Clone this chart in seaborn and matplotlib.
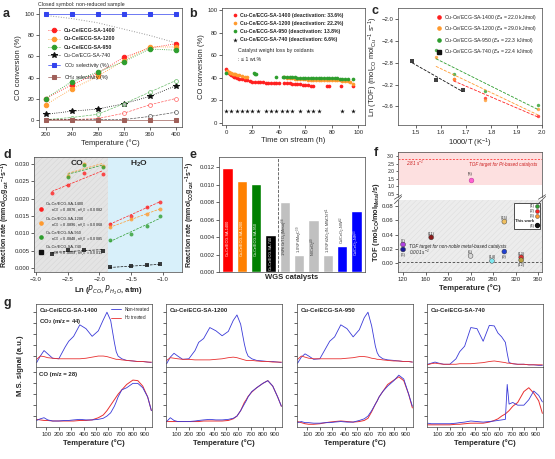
import matplotlib
matplotlib.use("Agg")
import matplotlib.pyplot as plt
import seaborn as sns
import numpy as np
from matplotlib.lines import Line2D

# ---------------- data ----------------
# (a) CO conversion vs temperature
TEMP_A = [200, 240, 280, 320, 360, 400]
CONV_1400 = [20, 33, 44, 59, 68, 72]
CONV_1200 = [14, 29, 41, 56, 69, 69]
CONV_950 = [20, 36, 45, 55, 67, 66]
CONV_740 = [5, 8, 10, 15, 22, 32]
CONV_1400_OPEN = [0, 0, 1, 6, 14, 20]
CONV_950_OPEN = [0, 2, 5, 15, 26, 37]
CONV_740_OPEN = [0, 0, 0, 0, 3, 7]
EQUIL_A = [99, 96, 92, 86, 80, 73]
SEL_CO2 = [100, 100, 100, 100, 100, 100]
SEL_CH4 = [0, 0, 0, 0, 0, 0]

# (b) stability test
TIME_1400 = [0, 1, 2, 3, 4, 5, 6, 7, 8, 10, 12, 14, 16, 18, 20, 22, 24, 26, 28, 30, 32, 34, 36, 38,
             40, 44, 46, 48, 50, 52, 54, 56, 58, 60, 62, 64, 66, 76, 78, 87, 96]
STAB_1400 = [48, 46, 44.5, 43.5, 42.5, 41.5, 41, 40.5, 40, 39, 38.5, 38, 37.5, 37, 36.5, 36.5, 36.5, 36,
             36, 35.5, 35.5, 35.5, 35.5, 35, 35, 35, 35, 35, 34.5, 34.5, 34, 34, 33.5, 33.5, 33.5, 33,
             33, 33, 33, 32.5, 32.5]
TIME_1200 = [1, 2, 3, 4, 5, 6, 7, 8, 10, 12, 14, 16, 44, 46, 48, 50, 52, 54, 56, 58, 60, 62, 64, 66,
             68, 70, 72, 74, 76, 78, 80, 82, 84, 86, 88, 90, 92, 94, 96]
STAB_1200 = [46, 45, 44.5, 44, 43.5, 43, 43, 42.5, 42, 41.5, 41, 41, 40.5, 40, 39.5, 39.5, 39, 39, 39,
             38.5, 38.5, 38, 38, 38, 38, 38, 38, 38, 37.5, 37.5, 37.5, 37.5, 37.5, 37.5, 37, 37, 37,
             36.5, 34]
TIME_950 = [0, 21, 22, 23, 38, 43, 44, 46, 48, 50, 52, 54, 56, 58, 60, 62, 64, 66, 68, 70, 72, 74, 76,
            78, 80, 82, 84, 86, 88, 90, 92, 96]
STAB_950 = [44, 44, 43.5, 43, 41, 41, 41, 40.5, 40.5, 40.5, 40.5, 40, 40, 40, 40, 40, 40, 39.5, 39.5,
            39.5, 39.5, 39.5, 39.5, 39.5, 39.5, 39.5, 39.5, 39, 39, 39, 39, 38.5]
TIME_740 = [0, 4, 8, 12, 16, 20, 24, 30, 34, 38, 42, 46, 50, 56, 62, 66, 70, 88, 96]
STAB_740 = [10, 10, 10, 10, 10, 10, 10, 10, 10, 10, 10, 10, 10, 10, 10, 10, 10, 10, 10]

# (c) Arrhenius
INVT_A = [1.58, 1.65, 1.775, 1.985]
INVT_1400 = [1.65, 1.775, 1.985]
INVT_740 = [1.486, 1.580, 1.686]
LNTOF_1400 = [-3.09, -3.45, -3.77]
LNTOF_1200 = [-2.70, -3.10, -3.49, -3.65]
LNTOF_950 = [-2.56, -3.00, -3.32, -3.57]
LNTOF_740 = [-2.77, -3.11, -3.30]
EA_TXT = ['22.0', '29.0', '22.3', '22.4']

# (d) reaction orders
LNP_CO = [-2.75, -2.5, -2.25, -1.95]
LNP_CO3 = [-2.5, -2.25, -1.95]
LNP_H2O = [-1.84, -1.5, -1.25, -1.05]
RCO_1400 = [0.0215, 0.0238, 0.0275, 0.0270]
RCO_1200 = [0.0265, 0.0300, 0.0295]
RCO_950 = [0.0262, 0.0297, 0.0290]
RCO_740 = [0.0041, 0.0051, 0.0052, 0.0050]
RH2O_1400 = [0.0127, 0.0150, 0.0177, 0.0190]
RH2O_1200 = [0.0117, 0.0140, 0.0155, 0.0171]
RH2O_950 = [0.0081, 0.0097, 0.0120, 0.0150]
RH2O_740 = [0.0001, 0.0005, 0.0008, 0.0010]
N_CO = ['0.0876', '0.0896', '0.0848', '0.0009']
N_H2O = ['0.0082', '0.0068', '0.0085', '0.0013']

# (e) benchmark rates
E_NAMES = ["Cu-Ce/ECG-SA-1400", "Cu-Ce/ECG-SA-1200", "Cu-Ce/ECG-SA-950", "Cu-Ce/ECG-SA-740",
           "1%Pt/CeTiO$_x$(Meso)$^{38}$", "1.0%Pt/Mo$_2$C$^{39}$", "Ni/CeO$_2$$^{40}$",
           "1.0%Pt/ZrO$_2$/Ni-MWCNT$^{41}$", "Cu/CeO$_2$-NW$^{42}$", "Cu/CeO$_2$-NR$^{43}$"]
E_RATES = [0.0119, 0.0105, 0.0101, 0.0042, 0.0080, 0.0020, 0.0060, 0.0020, 0.0030, 0.0070]
E_COLORS = ["#ff0000", "#ff8000", "#008000", "#000000", "#c0c0c0", "#c0c0c0", "#c0c0c0", "#c0c0c0",
            "#0000ff", "#0000ff"]

# (f) TOF comparison
F_TEMP = [120, 120, 170, 240, 278, 300, 300, 330, 330]
F_TOF = [0.026, 0.019, 0.036, 0.010, 0.003, 0.016, 0.058, 0.008, 0.004]
F_REFS = ["(7)", "(6)", "(11)", "(5)", "(14)", "(9)", "(15)", "(13)", "(12)"]
F_COLORS = ["#b040e0", "#1a1a9a", "#8b1a1a", "#d8d8d8", "#80e8f0", "#2040d0", "#f0c060", "#e03030",
            "#b8a040"]
F_PT_TEMP = [240]
F_PT_TOF = [1.45]

# (g) TPO profiles
T_G = [20, 50, 80, 110, 150, 200, 250, 280, 320, 370, 420, 470, 520, 560, 590, 620, 650, 665, 680,
       710, 750, 800, 840, 880, 920, 950]
CO2_1400_NT = [0.08, 0.2, 0.3, 0.24, 0.16, 0.15, 0.36, 0.47, 0.56, 0.77, 0.7, 0.56, 0.66, 0.86, 1.0,
               0.85, 0.45, 0.28, 0.2, 0.15, 0.12, 0.11, 0.1, 0.1, 0.09, 0.08]
CO2_1400_H2 = [0.14, 0.2, 0.19, 0.17, 0.16, 0.15, 0.15, 0.15, 0.15, 0.15, 0.16, 0.18, 0.2, 0.2, 0.19,
               0.17, 0.15, 0.14, 0.14, 0.13, 0.12, 0.11, 0.1, 0.1, 0.09, 0.09]
CO2_1200_NT = [0.06, 0.18, 0.25, 0.2, 0.14, 0.15, 0.3, 0.45, 0.52, 0.72, 0.66, 0.57, 0.65, 0.85, 0.95,
               0.78, 0.42, 0.28, 0.2, 0.15, 0.12, 0.11, 0.1, 0.1, 0.09, 0.08]
CO2_1200_H2 = [0.12, 0.17, 0.16, 0.15, 0.14, 0.14, 0.13, 0.13, 0.13, 0.13, 0.14, 0.15, 0.17, 0.18,
               0.17, 0.15, 0.13, 0.12, 0.12, 0.12, 0.11, 0.1, 0.1, 0.09, 0.09, 0.09]
CO2_950_NT = [0.07, 0.18, 0.24, 0.2, 0.14, 0.15, 0.35, 0.47, 0.55, 0.77, 0.7, 0.55, 0.68, 0.9, 1.0,
              0.75, 0.38, 0.26, 0.2, 0.15, 0.13, 0.12, 0.11, 0.1, 0.1, 0.09]
CO2_950_H2 = [0.14, 0.2, 0.18, 0.16, 0.15, 0.15, 0.15, 0.15, 0.15, 0.15, 0.16, 0.17, 0.19, 0.19, 0.18,
              0.16, 0.15, 0.14, 0.14, 0.13, 0.12, 0.11, 0.11, 0.1, 0.1, 0.09]
CO2_740_NT = [0.05, 0.07, 0.09, 0.07, 0.05, 0.05, 0.15, 0.28, 0.38, 0.72, 0.7, 0.47, 0.76, 0.75, 0.62,
              0.55, 0.45, 0.25, 0.08, 0.06, 0.05, 0.05, 0.04, 0.04, 0.03, 0.03]
CO2_740_H2 = [0.04, 0.06, 0.07, 0.06, 0.05, 0.05, 0.05, 0.06, 0.06, 0.06, 0.07, 0.08, 0.1, 0.11, 0.1,
              0.09, 0.08, 0.07, 0.07, 0.06, 0.05, 0.05, 0.04, 0.04, 0.04, 0.04]
CO_1400_NT = [0.12, 0.15, 0.17, 0.13, 0.11, 0.11, 0.12, 0.12, 0.13, 0.14, 0.13, 0.13, 0.14, 0.16, 0.2,
              0.26, 0.38, 0.46, 0.55, 0.68, 0.72, 0.8, 0.8, 0.72, 0.55, 0.3]
CO_1400_H2 = [0.14, 0.13, 0.12, 0.12, 0.11, 0.11, 0.11, 0.11, 0.11, 0.12, 0.12, 0.13, 0.17, 0.22, 0.3,
              0.4, 0.5, 0.55, 0.6, 0.68, 0.78, 0.86, 0.85, 0.75, 0.55, 0.3]
CO_1200_NT = [0.1, 0.17, 0.12, 0.1, 0.1, 0.1, 0.11, 0.12, 0.13, 0.14, 0.13, 0.13, 0.14, 0.16, 0.2, 0.3,
              0.42, 0.48, 0.55, 0.65, 0.72, 0.8, 0.85, 0.75, 0.55, 0.38]
CO_1200_H2 = [0.1, 0.1, 0.1, 0.1, 0.1, 0.1, 0.1, 0.1, 0.11, 0.11, 0.11, 0.11, 0.12, 0.15, 0.2, 0.3,
              0.45, 0.5, 0.56, 0.64, 0.72, 0.8, 0.85, 0.75, 0.55, 0.38]
CO_950_NT = [0.08, 0.1, 0.08, 0.08, 0.07, 0.07, 0.08, 0.08, 0.09, 0.1, 0.09, 0.09, 0.12, 0.15, 0.2, 0.3,
             0.42, 0.48, 0.55, 0.65, 0.75, 0.85, 0.95, 0.88, 0.6, 0.38]
CO_950_H2 = [0.1, 0.08, 0.06, 0.05, 0.05, 0.06, 0.08, 0.09, 0.1, 0.11, 0.1, 0.09, 0.1, 0.12, 0.16,
             0.28, 0.42, 0.48, 0.55, 0.65, 0.78, 0.86, 0.92, 0.85, 0.6, 0.35]
CO_740_NT = [0.07, 0.06, 0.06, 0.06, 0.06, 0.06, 0.07, 0.08, 0.09, 0.11, 0.1, 0.09, 0.1, 0.11, 0.12,
             0.13, 0.14, 0.78, 0.42, 0.45, 0.4, 0.4, 0.5, 0.66, 0.58, 0.46]
CO_740_H2 = [0.04, 0.04, 0.04, 0.04, 0.04, 0.04, 0.05, 0.05, 0.06, 0.07, 0.07, 0.07, 0.09, 0.12, 0.15,
             0.2, 0.24, 0.27, 0.3, 0.38, 0.45, 0.65, 0.72, 0.62, 0.48, 0.25]

SAMPLES = ["Cu-Ce/ECG-SA-1400", "Cu-Ce/ECG-SA-1200", "Cu-Ce/ECG-SA-950", "Cu-Ce/ECG-SA-740"]
DEACT = ['33.6', '22.2', '13.8', '6.6']
RED, ORANGE, GREEN, BLACK = "#ff2020", "#ff9a2e", "#2e9e2e", "#111111"

# ---------------- style ----------------
sns.set_theme(style="ticks")
plt.rcParams['font.family'] = ['Liberation Sans', 'DejaVu Sans']
plt.rcParams.update({
    'font.size': 4.3, 'axes.linewidth': 0.5, 'axes.edgecolor': '#444444',
    'xtick.major.width': 0.5, 'ytick.major.width': 0.5,
    'xtick.major.size': 2, 'ytick.major.size': 2,
    'xtick.major.pad': 1.5, 'ytick.major.pad': 1.2,
    'xtick.labelsize': 4.3, 'ytick.labelsize': 4.3,
    'axes.labelsize': 5.5, 'axes.labelpad': 1.5, 'legend.fontsize': 4,
    'hatch.linewidth': 0.3, 'mathtext.default': 'regular',
})

W, H = 555, 459
fig = plt.figure(figsize=(W / 100, H / 100), dpi=100)


def px(l, t, r, b):
    return fig.add_axes([l / W, 1 - b / H, (r - l) / W, (b - t) / H])


def ftext(x, y, s, **kw):
    fig.text(x / W, 1 - y / H, s, **kw)


fmt = matplotlib.ticker.FormatStrFormatter

# ---------------- (a) ----------------
ax = px(39, 8, 182, 127)
sns.lineplot(x=TEMP_A, y=EQUIL_A, ax=ax, color='#999999', ls=':', lw=0.7)
for y, c, lab, m in [(CONV_1400, RED, SAMPLES[0], 'o'), (CONV_1200, ORANGE, SAMPLES[1], 'o'),
                     (CONV_950, GREEN, SAMPLES[2], 'o'), (CONV_740, BLACK, SAMPLES[3], '*')]:
    sns.lineplot(x=TEMP_A, y=y, ax=ax, color=c, marker=m, ms=3.2 if m == 'o' else 4.2,
                 markeredgecolor=c, ls=':', lw=0.6, label=lab)
for y, c in [(CONV_1400_OPEN, RED), (CONV_950_OPEN, GREEN), (CONV_740_OPEN, BLACK)]:
    sns.lineplot(x=TEMP_A, y=y, ax=ax, color=c, marker='o', ms=2.8, mfc='white',
                 markeredgecolor=c, mew=0.5, ls='--', lw=0.5, alpha=0.7)
sns.lineplot(x=TEMP_A, y=SEL_CO2, ax=ax, color='#3344ee', marker='s', ms=2.6,
             markeredgecolor='#3344ee', lw=0.5, label='CO$_2$ selectivity (%)')
sns.lineplot(x=TEMP_A, y=SEL_CH4, ax=ax, color='#a0605a', marker='s', ms=2.6,
             markeredgecolor='#a0605a', lw=0.5, label='CH$_4$ selectivity (%)')
leg = ax.legend(loc='upper left', bbox_to_anchor=(0.03, 0.87), frameon=False, fontsize=3.8,
                handlelength=2.2, labelspacing=0.6)
for t in leg.get_texts()[:3]:
    t.set_fontweight('bold')
ax.set_xlim(190, 410)
ax.set_ylim(-7, 106)
ax.set_xticks(TEMP_A)
ax.set_yticks([0, 20, 40, 60, 80, 100])
ax.set_xlabel('Temperature (°C)')
ax.set_ylabel('CO conversion (%)')
ftext(38, 6, 'Closed symbol: non-reduced sample', fontsize=3.8)

# ---------------- (b) ----------------
ax = px(222, 8, 365, 125)
for tt, yy, c, k, m in [(TIME_1400, STAB_1400, RED, 0, 'o'), (TIME_1200, STAB_1200, ORANGE, 1, 'o'),
                        (TIME_950, STAB_950, GREEN, 2, 'o'), (TIME_740, STAB_740, BLACK, 3, '*')]:
    sns.scatterplot(x=tt, y=yy, ax=ax, color=c, marker=m, s=7 if m == 'o' else 12,
                    linewidth=0, label=f'{SAMPLES[k]} (deactivation: {DEACT[k]}%)')
leg = ax.legend(loc='upper left', bbox_to_anchor=(0.02, 1.0), frameon=False, fontsize=3.7,
                handletextpad=0.1, labelspacing=0.6)
for t in leg.get_texts():
    t.set_fontweight('bold')
ax.text(0.11, 0.62, 'Catalyst weight loss by oxidants', transform=ax.transAxes, fontsize=3.8)
ax.text(0.11, 0.55, ': ≤ 1 wt.%', transform=ax.transAxes, fontsize=3.8)
ax.set_xlim(-3, 105)
ax.set_ylim(-2, 101.8)
ax.set_xticks([0, 20, 40, 60, 80, 100])
ax.set_yticks([0, 20, 40, 60, 80, 100])
ax.set_xlabel('Time on stream (h)')
ax.set_ylabel('CO conversion (%)')

# ---------------- (c) ----------------
ax = px(398, 8, 542, 125)
for xx, yy, c in [(INVT_1400, LNTOF_1400, RED), (INVT_A, LNTOF_1200, ORANGE),
                  (INVT_A, LNTOF_950, GREEN), (INVT_740, LNTOF_740, BLACK)]:
    sns.regplot(x=xx, y=yy, ax=ax, ci=None, color=c, marker='s' if c == BLACK else 'o',
                scatter_kws={'s': 6, 'linewidths': 0}, line_kws={'ls': '--', 'lw': 0.6})
handles = [Line2D([], [], ls='', marker='s' if c == BLACK else 'o', color=c, ms=2.3)
           for c in [RED, ORANGE, GREEN, BLACK]]
ax.legend(handles, [f'{s} ($\\it{{E}}_a$ = {e} kJ/mol)' for s, e in zip(SAMPLES, EA_TXT)],
          loc='upper right', frameon=False, fontsize=3.7, handletextpad=0.1, labelspacing=0.5)
ax.set_xlim(1.43, 2.0)
ax.set_ylim(-3.94, -1.8)
ax.set_xticks([1.5, 1.6, 1.7, 1.8, 1.9, 2.0])
ax.set_yticks([-2.0, -2.4, -2.8, -3.2, -3.6])
ax.set_xlabel('1000/T (K$^{-1}$)')
ax.set_ylabel('Ln (TOF) (mol$_{CO}$ mol$_{Cu}$$^{-1}$ s$^{-1}$)')

# ---------------- (d) ----------------
ax = px(34, 157, 182, 272)
ax.axvspan(-3.03, -1.87, facecolor='#e4e4e4', edgecolor='#d2d2d2', hatch='//////', lw=0)
ax.axvspan(-1.87, -0.7, facecolor='#d8f0fa', lw=0)
for (xx, yy), c in [((LNP_CO, RCO_1400), RED), ((LNP_CO3, RCO_1200), ORANGE),
                    ((LNP_CO3, RCO_950), GREEN), ((LNP_CO, RCO_740), BLACK),
                    ((LNP_H2O, RH2O_1400), RED), ((LNP_H2O, RH2O_1200), ORANGE),
                    ((LNP_H2O, RH2O_950), GREEN), ((LNP_H2O, RH2O_740), BLACK)]:
    sns.regplot(x=xx, y=yy, ax=ax, ci=None, color=c, marker='s' if c == BLACK else 'o',
                scatter_kws={'s': 8, 'linewidths': 0, 'zorder': 3},
                line_kws={'ls': '--', 'lw': 0.5})
ax.text(-2.35, 0.0296, 'CO', fontsize=6, fontweight='bold', ha='center')
ax.text(-1.38, 0.0296, 'H$_2$O', fontsize=6, fontweight='bold', ha='center')
handles = [Line2D([], [], ls='', marker='s' if c == BLACK else 'o', color=c, ms=2.3)
           for c in [RED, ORANGE, GREEN, BLACK]]
labels = [f'{s}\n      $n_{{CO}}$ = {a}, $n_{{H_2O}}$ = {b}' for s, a, b in zip(SAMPLES, N_CO, N_H2O)]
leg = ax.legend(handles, labels, loc='upper left', bbox_to_anchor=(0.0, 0.63), frameon=False,
                fontsize=2.9, handletextpad=0.1, labelspacing=0.3, borderpad=0.2)
ax.set_xlim(-3.03, -0.7)
ax.set_ylim(-0.0012, 0.032)
ax.set_xticks([-3.0, -2.5, -2.0, -1.5, -1.0])
ax.set_yticks([0, 0.005, 0.010, 0.015, 0.020, 0.025, 0.030])
ax.yaxis.set_major_formatter(fmt('%.3f'))
ax.set_xlabel('Ln ($\\it{P}_{CO}$, $\\it{P}_{H_2O}$, atm)', fontweight='bold')
ax.set_ylabel('Reaction rate (mmol$_{CO}$g$_{cat}$$^{-1}$s$^{-1}$)', fontweight='bold',
              fontsize=5.0)

# ---------------- (e) ----------------
ax = px(219, 157, 365, 272)
sns.barplot(x=list(range(len(E_NAMES))), y=E_RATES, hue=list(range(len(E_NAMES))),
            palette=E_COLORS, legend=False, ax=ax, width=0.72, saturation=1)
ax.axvline(3.5, color='#555555', ls='--', lw=0.6)
for i, (name, r, c) in enumerate(zip(E_NAMES, E_RATES, E_COLORS)):
    gray = c == '#c0c0c0'
    if r > 0.0055:
        yb, col = 0.0018, ('#333333' if gray else 'white')
    elif c == '#000000':
        yb, col = 0.0002, 'white'
    else:
        yb, col = r + 0.0002, '#333333'
    ax.text(i, yb, name, rotation=90, ha='center', va='bottom', fontsize=2.7, color=col)
ax.set_xlim(-0.6, 9.6)
ax.set_ylim(0, 0.0132)
ax.set_xticks([])
ax.set_yticks([0, 0.002, 0.004, 0.006, 0.008, 0.010, 0.012])
ax.yaxis.set_major_formatter(fmt('%.3f'))
ax.set_xlabel('WGS catalysts', fontweight='bold')
ax.set_ylabel('Reaction rate (mmol$_{CO}$g$_{cat}$$^{-1}$s$^{-1}$)', fontweight='bold',
              fontsize=5.0)

# ---------------- (f) ----------------
axt = px(398, 152, 542, 197)
axb = px(398, 200, 542, 272)
axt.axhspan(1.12, 3.4, facecolor='#fde0e0', lw=0)
axt.axhline(2.81, color='#ff5050', ls=(0, (2, 1.5)), lw=0.7)
axt.text(126, 2.35, '2.81 s$^{-1}$', fontsize=3.3, style='italic', color='#cc2020')
axt.text(358, 2.35, 'TOF target for Pt-based catalysts', fontsize=3.3, style='italic',
         color='#cc2020', ha='right')
sns.scatterplot(x=F_PT_TEMP, y=F_PT_TOF, ax=axt, color='#ff60d0', s=12, edgecolor='#aa3090',
                linewidth=0.3)
axt.text(240, 1.75, '(8)', fontsize=2.8, ha='center')
for a in (axt, axb):
    a.set_xlim(111, 367)
axt.set_ylim(0.3, 3.26)
axt.set_yticks([0.5, 1.0, 1.5, 2.0, 2.5, 3.0])
axt.yaxis.set_major_formatter(fmt('%.1f'))
axt.tick_params(axis='y', labelsize=3.6, length=1.5)
axt.set_xticks([])
axt.spines['bottom'].set_visible(False)
axb.spines['top'].set_visible(False)
axb.axhspan(-0.02, 0.1, facecolor='#ececec', edgecolor='#dadada', hatch='//////', lw=0)
axb.axhline(0.001, color='#444444', ls=(0, (3, 2)), lw=0.6)
sns.scatterplot(x=F_TEMP, y=F_TOF, hue=F_REFS, palette=dict(zip(F_REFS, F_COLORS)),
                legend=False, ax=axb, s=12, edgecolor='#333333', linewidth=0.3, zorder=3)
for t, v, r in zip(F_TEMP, F_TOF, F_REFS):
    dy = -0.0085 if r in ('(6)', '(12)', '(9)') else 0.0035
    axb.text(t, v + dy, r, fontsize=2.8, ha='center')
axb.text(131, 0.0215, 'TOF target for non-noble metal-based catalysts', fontsize=3.3,
         style='italic')
axb.text(131, 0.0115, '0.001 s$^{-1}$', fontsize=3.3, style='italic')
hs = [Line2D([], [], ls='', marker='o', color=c, ms=2.8, mec='#333333', mew=0.3)
      for c in [GREEN, RED, ORANGE]]
hs += [Line2D([], [], ls='', marker=None),
       Line2D([], [], ls='', marker='o', color=BLACK, ms=2.8)]
leg = axb.legend(hs, ['(1)', '(2)', '(3)', 'This work', '(4)'], loc='upper right',
                 bbox_to_anchor=(1.0, 0.99), markerfirst=False, fontsize=3, fancybox=False,
                 edgecolor='#333333', framealpha=1, handletextpad=0.2, labelspacing=0.2,
                 borderpad=0.4, handlelength=0.7)
leg.get_frame().set_linewidth(0.6)
leg.get_texts()[3].set_fontweight('bold')
axb.set_ylim(-0.0126, 0.0884)
axb.set_yticks([0, 0.02, 0.04, 0.06, 0.08])
axb.yaxis.set_major_formatter(fmt('%.2f'))
axb.set_xticks([120, 160, 200, 240, 280, 320, 360])
axb.set_xlabel('Temperature (°C)', fontweight='bold')
d = 0.025
for a, yv in ((axt, 0), (axb, 1)):
    for xv in (0, 1):
        a.plot([xv - d, xv + d], [yv - d * 2, yv + d * 2], transform=a.transAxes,
               color='#444444', lw=0.5, clip_on=False)
ftext(377, 222, 'TOF (mol$_{CO}$/mol$_{Metal}$/s)', fontsize=5.3, fontweight='bold',
      rotation=90, ha='center', va='center')

# ---------------- (g) ----------------
cols = [(36, 152), (166, 282), (297, 413), (427, 543)]
top_sets = [(CO2_1400_NT, CO2_1400_H2), (CO2_1200_NT, CO2_1200_H2),
            (CO2_950_NT, CO2_950_H2), (CO2_740_NT, CO2_740_H2)]
bot_sets = [(CO_1400_NT, CO_1400_H2), (CO_1200_NT, CO_1200_H2),
            (CO_950_NT, CO_950_H2), (CO_740_NT, CO_740_H2)]
for i, (l, r) in enumerate(cols):
    at = px(l, 304, r, 367)
    ab = px(l, 367, r, 427)
    nt, h2 = top_sets[i]
    sns.lineplot(x=T_G, y=nt, ax=at, color='#3a3ad8', lw=0.6,
                 label='Non-treated' if i == 0 else None)
    sns.lineplot(x=T_G, y=h2, ax=at, color='#e83030', lw=0.6,
                 label='H$_2$ treated' if i == 0 else None)
    nt, h2 = bot_sets[i]
    sns.lineplot(x=T_G, y=h2, ax=ab, color='#e83030', lw=0.7)
    sns.lineplot(x=T_G, y=nt, ax=ab, color='#3a3ad8', lw=0.6)
    for a in (at, ab):
        a.set_xlim(15, 955)
        a.set_xticks([100, 200, 300, 400, 500, 600, 700, 800, 900])
        a.set_yticks([0.2, 0.4, 0.6, 0.8, 1.0])
        a.set_yticklabels([])
        a.set_ylabel('')
    at.set_ylim(0, 1.15)
    ab.set_ylim(0, 1.1)
    at.set_xticklabels([])
    at.text(0.03, 0.88, SAMPLES[i], transform=at.transAxes, fontsize=4.3, fontweight='bold')
    ab.set_xlabel('Temperature (°C)', fontweight='bold')
    if i == 0:
        at.text(0.03, 0.7, 'CO$_2$ (m/z = 44)', transform=at.transAxes, fontsize=4.3,
                fontweight='bold')
        ab.text(0.03, 0.85, 'CO (m/z = 28)', transform=ab.transAxes, fontsize=4.3,
                fontweight='bold')
        at.legend(loc='upper right', frameon=False, fontsize=3.3, handlelength=2,
                  labelspacing=0.4, borderaxespad=0.2)
ftext(20, 366, 'M.S. signal (a.u.)', fontsize=5.5, fontweight='bold', rotation=90,
      ha='center', va='center')

# panel letters
for s, x, y in [('a', 3, 17), ('b', 189, 17), ('c', 372, 14), ('d', 3, 158),
                ('e', 190, 158), ('f', 374, 156), ('g', 4, 306)]:
    ftext(x, y, s, fontsize=9, fontweight='bold')

fig.savefig('out.png', dpi=100)
